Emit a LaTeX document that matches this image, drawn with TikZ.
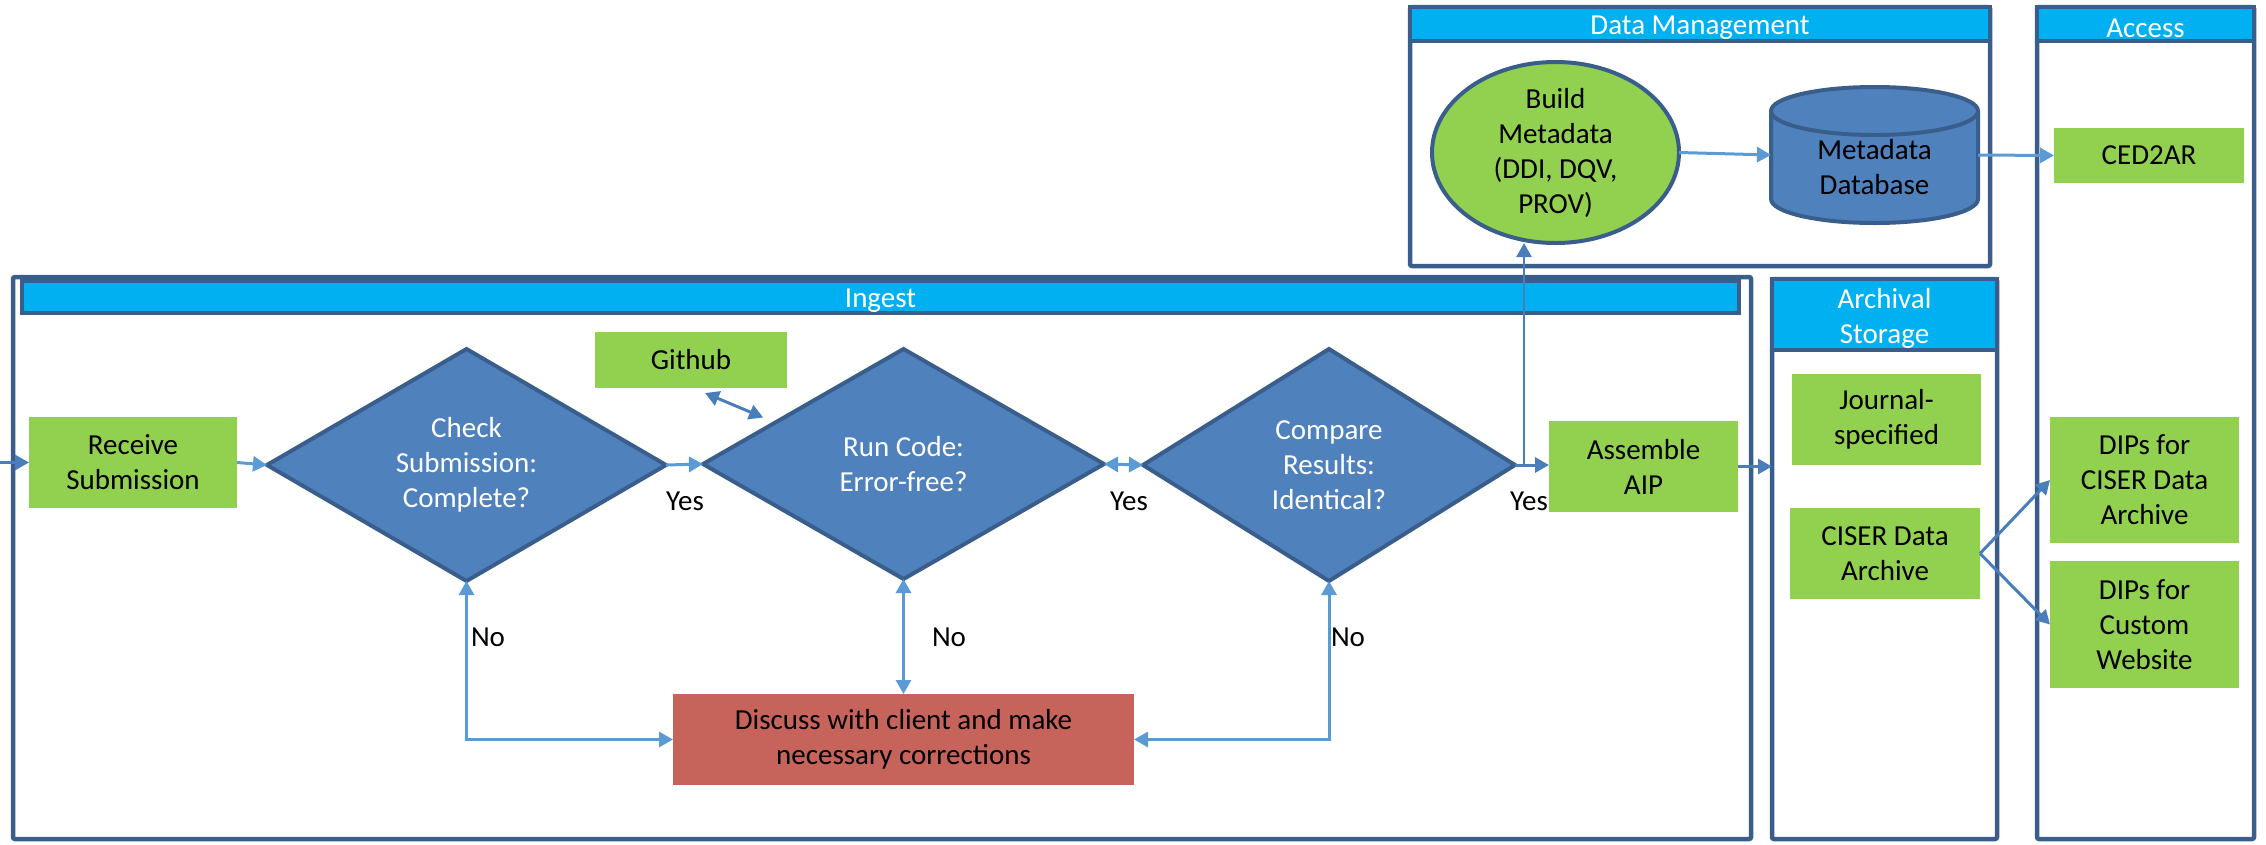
\documentclass[tikz,border=0pt]{standalone}
\usepackage{fontspec}
\setmainfont{Carlito}
\usetikzlibrary{shapes.geometric,arrows.meta,calc}

\definecolor{leaf}{RGB}{146,208,80}
\definecolor{edge}{RGB}{58,94,140}
\definecolor{steel}{RGB}{79,129,189}
\definecolor{sky}{RGB}{0,176,240}
\definecolor{lightline}{RGB}{91,155,213}
\definecolor{darkline}{RGB}{74,126,187}
\definecolor{brick}{RGB}{198,100,91}

\begin{document}
\begin{tikzpicture}[x=1pt,y=-1pt,
  every node/.style={font=\fontsize{29}{35}\selectfont, inner sep=0pt, outer sep=0pt, align=center},
  lane/.style={draw=edge, line width=4.5pt, rounded corners=2pt, rectangle},
  lanehead/.style={draw=edge, fill=sky, line width=4pt, rectangle},
  headtext/.style={text=white, yshift=-4pt},
  greenbox/.style={fill=leaf, text=black, rectangle},
  redbox/.style={fill=brick, text=black, rectangle},
  decision/.style={diamond, draw=edge, fill=steel, line width=4pt, text=white},
  flow/.style={draw=lightline, line width=3pt, -{Triangle[length=14pt,width=15pt]}},
  flowboth/.style={draw=lightline, line width=3pt, {Triangle[length=14pt,width=15pt]}-{Triangle[length=14pt,width=15pt]}},
  darkflow/.style={draw=darkline, line width=3pt, -{Triangle[length=14pt,width=15pt]}},
  darkboth/.style={draw=darkline, line width=3pt, {Triangle[length=14pt,width=15pt]}-{Triangle[length=14pt,width=15pt]}},
  thinflow/.style={draw=darkline, line width=2.5pt, -{Triangle[length=14pt,width=15pt]}},
  tag/.style={text=black}
]
\useasboundingbox (0,0) rectangle (2266,844);

% ---- swim lanes ----
\node[lane, minimum width=1738, minimum height=562] (ingest) at (882,558) {};
\node[lanehead, minimum width=1717, minimum height=32,
      label={[headtext]center:Ingest}] (ingesthd) at (880.5,297) {};

\node[lane, minimum width=580, minimum height=259] (datamgmt) at (1700,136.5) {};
\node[lanehead, minimum width=580, minimum height=34,
      label={[headtext]center:Data Management}] (datamgmthd) at (1700,24) {};

\node[lane, minimum width=217, minimum height=832] (access) at (2145.5,423) {};
\node[lanehead, minimum width=217, minimum height=34,
      label={[headtext]center:Access}] (accesshd) at (2145.5,24) {};

\node[lane, minimum width=225, minimum height=560] (archival) at (1884.5,559) {};
\node[lanehead, minimum width=225, minimum height=71,
      label={[headtext]center:{Archival\\Storage}}] (archivalhd) at (1884.5,314.5) {};

% ---- ingest steps ----
\node[greenbox, minimum width=208, minimum height=91] (receive) at (133,462.5) {Receive\\Submission};
\node[decision, shape aspect=1.72, minimum width=399, minimum height=232] (check) at (466.5,465) {Check\\Submission:\\Complete?};
\node[decision, shape aspect=1.75, minimum width=401, minimum height=230] (run) at (903.5,464) {Run Code:\\Error-free?};
\node[decision, shape aspect=1.6, minimum width=372, minimum height=232] (compare) at (1329,465) {Compare\\Results:\\Identical?};
\node[greenbox, minimum width=192, minimum height=56] (github) at (691,360) {Github};
\node[greenbox, minimum width=189, minimum height=91] (assemble) at (1643.5,466.5) {Assemble\\AIP};
\node[redbox, minimum width=461, minimum height=91] (discuss) at (903.5,739.5) {Discuss with client and make\\necessary corrections};

% ---- archival storage ----
\node[greenbox, minimum width=189, minimum height=91] (journal) at (1886.5,419.5) {Journal-\\specified};
\node[greenbox, minimum width=190, minimum height=91] (ciser) at (1885,553.5) {CISER Data\\Archive};

% ---- access ----
\node[greenbox, minimum width=190, minimum height=55] (ced2ar) at (2149,155.5) {CED2AR};
\node[greenbox, minimum width=189, minimum height=126] (dipsciser) at (2144.5,480) {DIPs for\\CISER Data\\Archive};
\node[greenbox, minimum width=189, minimum height=127] (dipsweb) at (2144.5,624.5) {DIPs for\\Custom\\Website};

% ---- data management ----
\node[ellipse, fill=leaf, draw=edge, line width=4pt, minimum width=247, minimum height=181] (build) at (1555.5,152.5) {};
\node at (build) {Build\\Metadata\\(DDI, DQV,\\PROV)};

% metadata database cylinder
\path[fill=steel, draw=edge, line width=4pt]
  (1771,111) -- (1771,199)
  arc[start angle=180, end angle=360, x radius=103.5pt, y radius=24pt]
  -- (1978,111)
  arc[start angle=0, end angle=180, x radius=103.5pt, y radius=24pt] -- cycle;
\draw[edge, line width=4pt] (1771,111) arc[start angle=180, end angle=360, x radius=103.5pt, y radius=24pt];
\node[minimum width=207, minimum height=136] (db) at (1874.5,155) {};
\node at (1874.5,167.5) {Metadata\\Database};

% ---- connectors ----
\coordinate (entry) at (0,462.5);
\draw[darkflow] (entry) -- (receive.west);
\draw[flow] (receive.east) -- (check.west);
\draw[flow] (check.east) -- (run.west);
\draw[flowboth] (run.east) -- (compare.west);
\draw[flowboth] (check.south) |- (discuss.west);
\draw[flowboth] (run.south) -- (discuss.north);
\draw[flowboth] (compare.south) |- (discuss.east);
\draw[darkflow] (compare.east) -- (compare.east -| assemble.west);
\coordinate (split) at (1524,465);
\draw[thinflow] (split) -- (build.south -| split);
\draw[darkflow] (assemble.east) -- (assemble.east -| archival.west);
\draw[darkboth] ($(github.south)+(14,5)$) -- ($(run.west)!0.3!(run.north)+(0,-12)$);
\draw[darkflow] (ciser.east) -- (dipsciser.west);
\draw[darkflow] (ciser.east) -- (dipsweb.west);
\draw[flow] (build.east) -- (db.west);
\draw[flow] (db.east) -- (ced2ar.west);

% ---- branch labels ----
\node[tag] at (685,501) {Yes};
\node[tag] at (1129,501) {Yes};
\node[tag] at (1529,501) {Yes};
\node[tag] at (488,637) {No};
\node[tag] at (949,637) {No};
\node[tag] at (1348,637) {No};
\end{tikzpicture}
\end{document}
